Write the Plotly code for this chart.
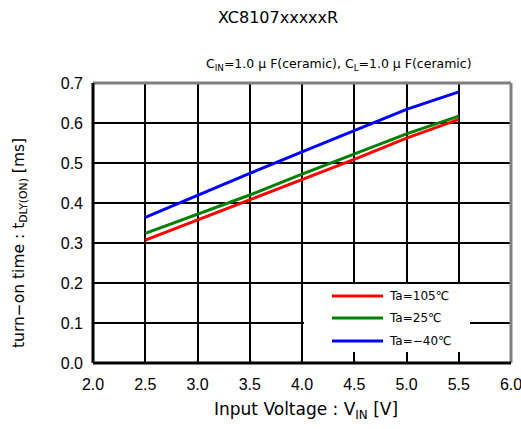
import plotly.graph_objects as go

vin = [2.5, 3.0, 3.5, 4.0, 4.5, 5.0, 5.5]
t_105 = [0.307, 0.357, 0.407, 0.459, 0.509, 0.562, 0.609]
t_25 = [0.324, 0.372, 0.420, 0.472, 0.523, 0.573, 0.617]
t_m40 = [0.364, 0.420, 0.474, 0.528, 0.581, 0.634, 0.678]

series = [
    ("Ta=105℃", t_105, "#ff0000"),
    ("Ta=25℃", t_25, "#008000"),
    ("Ta=−40℃", t_m40, "#0000ff"),
]

FONT = "Liberation Sans, Arial, sans-serif"
WFONT = "DejaVu Sans, sans-serif"
L, R, T, B = 93, 511, 83, 363
W, H = R - L, B - T

def px(x):
    return (x - L) / W

def py(y):
    return (B - y) / H

fig = go.Figure()
for i, (name, ys, col) in enumerate(series):
    fig.add_trace(go.Scatter(x=vin, y=ys, mode="lines", name=name,
                             line=dict(color=col, width=3)))

shapes = [
    # legend box
    dict(type="rect", xref="paper", yref="paper",
         x0=px(304), x1=px(470), y0=py(352), y1=py(284),
         fillcolor="white", line=dict(width=0), layer="above"),
    # frame
    dict(type="line", xref="paper", yref="paper", x0=0, x1=1, y0=1, y1=1,
         line=dict(color="#808080", width=3)),
    dict(type="line", xref="paper", yref="paper", x0=1, x1=1, y0=0, y1=1,
         line=dict(color="#808080", width=3)),
    dict(type="line", xref="paper", yref="paper", x0=0, x1=1, y0=0, y1=0,
         line=dict(color="black", width=3)),
    dict(type="line", xref="paper", yref="paper", x0=0, x1=0, y0=0, y1=1,
         line=dict(color="black", width=3)),
]

annotations = [
    dict(text="XC8107xxxxxR", xref="paper", yref="paper",
         x=px(278), y=py(18), xanchor="center", yanchor="middle",
         showarrow=False, font=dict(size=16, family=WFONT)),
    dict(text="C<sub>IN</sub>=1.0 μ F(ceramic), C<sub>L</sub>=1.0 μ F(ceramic)",
         xref="paper", yref="paper",
         x=px(339), y=py(64), xanchor="center", yanchor="middle",
         showarrow=False, font=dict(size=12.5, family=WFONT)),
    dict(text="Input Voltage : V<sub>IN</sub> [V]", xref="paper", yref="paper",
         x=px(306), y=py(410), xanchor="center", yanchor="middle",
         showarrow=False, font=dict(size=17, family=WFONT)),
    dict(text="turn−on time : t<sub>DLY(ON)</sub> [ms]", xref="paper", yref="paper",
         x=px(20), y=py(243), xanchor="center", yanchor="middle", textangle=-90,
         showarrow=False, font=dict(size=15.5, family=WFONT)),
]

legend_rows = [296, 318, 341]
for (name, ys, col), ry in zip(series, legend_rows):
    shapes.append(dict(type="line", xref="paper", yref="paper",
                       x0=px(332), x1=px(383), y0=py(ry), y1=py(ry),
                       line=dict(color=col, width=3), layer="above"))
    annotations.append(dict(text=name, xref="paper", yref="paper",
                            x=px(387), y=py(ry), xanchor="left", yanchor="middle",
                            showarrow=False, font=dict(size=12, family=WFONT)))

fig.update_layout(
    width=521, height=429,
    margin=dict(l=L, r=521 - R, t=T, b=429 - B),
    paper_bgcolor="white", plot_bgcolor="white",
    font=dict(family=FONT, color="black"),
    showlegend=False,
    xaxis=dict(range=[2.0, 6.0], dtick=0.5, tick0=2.0, tickformat=".1f",
               showgrid=True, gridcolor="black", gridwidth=2,
               zeroline=False, showline=False, ticks="",
               ticklabelstandoff=10, automargin=False,
               ticklabeloverflow="allow",
               tickfont=dict(size=16)),
    yaxis=dict(range=[0.0, 0.7], dtick=0.1, tick0=0.0, tickformat=".1f",
               showgrid=True, gridcolor="black", gridwidth=2,
               zeroline=False, showline=False, ticks="",
               ticklabelstandoff=9, automargin=False,
               ticklabeloverflow="allow",
               tickfont=dict(size=16)),
    shapes=shapes,
    annotations=annotations,
)

fig.write_html("out.html", config={"displayModeBar": False},
               post_script="document.body.style.margin='0';document.body.style.padding='0';")
